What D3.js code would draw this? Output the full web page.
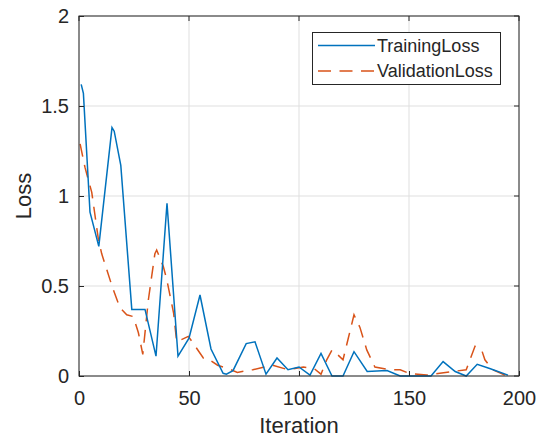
<!DOCTYPE html>
<html>
<head>
<meta charset="utf-8">
<script src="https://cdn.jsdelivr.net/npm/d3@7"></script>
<style>
  html, body { margin: 0; padding: 0; background: #fff; }
  svg { display: block; font-family: "Liberation Sans", Arial, sans-serif; }
</style>
</head>
<body>
<svg id="chart" width="539" height="439"></svg>
<script>
// Training loss per iteration
const trainIter = [1, 2, 5, 9, 15, 16, 19, 24, 30, 35, 40, 45, 50, 55, 60, 65.5, 67, 70, 76, 80, 85, 90, 95, 100, 105, 110, 115, 120, 125, 131, 140, 146, 160, 165.5, 171, 176, 181, 187, 195];
const trainLoss = [1.62, 1.57, 0.91, 0.72, 1.38, 1.36, 1.17, 0.37, 0.37, 0.11, 0.96, 0.11, 0.21, 0.45, 0.15, 0.015, 0.01, 0.03, 0.18, 0.19, 0.01, 0.10, 0.035, 0.05, 0.005, 0.125, 0, 0, 0.135, 0.025, 0.03, 0, 0, 0.08, 0.025, 0, 0.065, 0.04, 0.005];

// Validation loss per iteration
const valIter = [0.5, 2.7, 5.8, 8.8, 10.3, 15, 18.6, 21.7, 24.7, 27, 29, 31.5, 34.5, 35.3, 38.3, 40, 43, 44.4, 49.7, 52, 56.5, 58, 63, 68, 72, 79, 88, 95, 102, 107, 110, 112.6, 115, 117, 120, 122.4, 125, 127.7, 130.8, 134.5, 141, 146, 150, 158, 164, 176, 180, 183, 184.5, 188, 194];
const valLoss = [1.29, 1.16, 1.02, 0.76, 0.68, 0.50, 0.38, 0.34, 0.33, 0.24, 0.12, 0.42, 0.68, 0.70, 0.61, 0.53, 0.35, 0.19, 0.22, 0.18, 0.10, 0.10, 0.06, 0.04, 0.02, 0.035, 0.06, 0.035, 0.05, 0.04, 0.01, 0.09, 0.145, 0.125, 0.09, 0.21, 0.34, 0.27, 0.145, 0.05, 0.035, 0.035, 0.015, 0.005, 0.015, 0.035, 0.165, 0.145, 0.09, 0.035, 0.003];

const xTicks = [0, 50, 100, 150, 200];
const yTicks = [0, 0.5, 1, 1.5, 2];
const yTickLabels = ["0", "0.5", "1", "1.5", "2"];
const seriesNames = ["TrainingLoss", "ValidationLoss"];

const svg = d3.select("#chart");
const margin = { left: 79, top: 16, right: 20, bottom: 63 };
const W = 539, H = 439;
const x0 = margin.left, x1 = W - margin.right, y0 = H - margin.bottom, y1 = margin.top;

const x = d3.scaleLinear().domain([0, 200]).range([x0, x1]);
const y = d3.scaleLinear().domain([0, 2]).range([y0, y1]);

const axisColor = "#262626";
const blue = "#0072BD", orange = "#D95319";
const dash = "13,8.5";
const lineW = 1.5;

// grid
const grid = svg.append("g");
grid.selectAll("line.gx").data(xTicks).join("line")
  .attr("x1", d => x(d)).attr("x2", d => x(d))
  .attr("y1", y1).attr("y2", y0)
  .attr("stroke", "#dfdfdf").attr("stroke-width", 1);
grid.selectAll("line.gy").data(yTicks).join("line")
  .attr("x1", x0).attr("x2", x1)
  .attr("y1", d => y(d)).attr("y2", d => y(d))
  .attr("stroke", "#dfdfdf").attr("stroke-width", 1);

// lines
svg.append("clipPath").attr("id", "clip")
  .append("rect").attr("x", x0).attr("y", y1).attr("width", x1 - x0).attr("height", y0 - y1 + 1);

const line = d3.line().x(d => x(d[0])).y(d => y(d[1]));
const trainData = trainIter.map((t, i) => [t, trainLoss[i]]);
const valData = valIter.map((t, i) => [t, valLoss[i]]);

const plot = svg.append("g").attr("clip-path", "url(#clip)");
plot.append("path").datum(valData).attr("d", line)
  .attr("fill", "none").attr("stroke", orange).attr("stroke-width", lineW)
  .attr("stroke-dasharray", dash);
plot.append("path").datum(trainData).attr("d", line)
  .attr("fill", "none").attr("stroke", blue).attr("stroke-width", lineW);

// axes
const tickFont = 20;
const xAxis = d3.axisBottom(x).tickValues(xTicks).tickSizeInner(-5).tickSizeOuter(0).tickPadding(15);
const yAxis = d3.axisLeft(y).tickValues(yTicks).tickFormat((d, i) => yTickLabels[i]).tickSizeInner(-5).tickSizeOuter(0).tickPadding(10);

const gx = svg.append("g").attr("transform", `translate(0,${y0})`).call(xAxis);
const gy = svg.append("g").attr("transform", `translate(${x0},0)`).call(yAxis);
[gx, gy].forEach(g => {
  g.select(".domain").remove();
  g.selectAll(".tick line").attr("stroke", axisColor);
  g.selectAll(".tick text").attr("fill", axisColor).style("font-size", tickFont + "px")
    .style("font-family", '"Liberation Sans", Arial, sans-serif');
});
// ticks on top and right edges
svg.append("g").selectAll("line").data(xTicks).join("line")
  .attr("x1", d => x(d)).attr("x2", d => x(d)).attr("y1", y1).attr("y2", y1 + 5)
  .attr("stroke", axisColor);
svg.append("g").selectAll("line").data(yTicks).join("line")
  .attr("x1", x1).attr("x2", x1 - 5).attr("y1", d => y(d)).attr("y2", d => y(d))
  .attr("stroke", axisColor);

// box
svg.append("rect").attr("x", x0).attr("y", y1).attr("width", x1 - x0).attr("height", y0 - y1)
  .attr("fill", "none").attr("stroke", axisColor).attr("stroke-width", 1);

// axis titles
svg.append("text").attr("x", (x0 + x1) / 2).attr("y", 433)
  .attr("text-anchor", "middle").attr("fill", axisColor).style("font-size", "22px").text("Iteration");
svg.append("text").attr("transform", `translate(31,${(y0 + y1) / 2}) rotate(-90)`)
  .attr("text-anchor", "middle").attr("fill", axisColor).style("font-size", "22px").text("Loss");

// legend
const lg = svg.append("g");
lg.append("rect").attr("x", 312.5).attr("y", 32.5).attr("width", 188).attr("height", 52)
  .attr("fill", "#fff").attr("stroke", axisColor).attr("stroke-width", 1);
const legendRows = [
  { name: seriesNames[0], color: blue, dash: null, yy: 45.5 },
  { name: seriesNames[1], color: orange, dash: dash, yy: 71 }
];
legendRows.forEach(r => {
  lg.append("line").attr("x1", 318).attr("x2", 375).attr("y1", r.yy).attr("y2", r.yy)
    .attr("stroke", r.color).attr("stroke-width", lineW)
    .attr("stroke-dasharray", r.dash);
  lg.append("text").attr("x", 377).attr("y", r.yy).attr("dy", "0.36em")
    .attr("fill", axisColor).style("font-size", "18px").text(r.name);
});
</script>
</body>
</html>
